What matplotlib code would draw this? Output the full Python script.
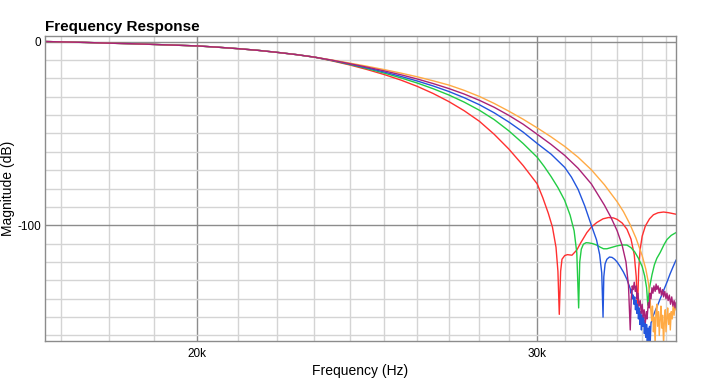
import numpy as np
import matplotlib
matplotlib.use("Agg")
import matplotlib.pyplot as plt

plt.rcParams['font.family'] = ['Liberation Sans', 'DejaVu Sans']

# shared low-frequency part (kHz, dB) - all five curves overlap here
head_f = [16.68, 17.0, 17.5, 18.0, 18.5, 19.0, 19.5, 20.0, 20.5, 21.0,
          21.5, 22.0, 22.5, 23.0]
head_db = [0.0, -0.2, -0.5, -0.9, -1.2, -1.6, -2.0, -2.4, -3.1, -3.9,
           -4.8, -5.9, -7.1, -8.5]

# red
red_f = [23.5, 24.0, 24.5, 25.0, 25.5, 26.0, 26.5, 27.0, 27.5, 28.0,
         28.5, 29.0, 29.5, 30.0, 30.2, 30.4, 30.55, 30.68, 30.75, 30.8,
         30.85, 30.9, 31.0, 31.1, 31.27, 31.45, 31.6, 31.83, 32.0, 32.21,
         32.45, 32.66, 32.85, 33.0, 33.2, 33.39, 33.55, 33.68, 33.76, 33.81,
         33.86, 33.92, 34.0, 34.13, 34.3, 34.46, 34.65, 34.88, 35.1, 35.4]
red_db = [-10.6, -12.8, -15.3, -18.0, -21.0, -24.4, -28.3, -32.7, -37.7, -43.4,
          -50.5, -58.5, -67.5, -77.5, -85.0, -93.5, -101, -112, -125, -148.5,
          -125, -118.5, -116.5, -116.0, -116.3, -113.5, -109.5, -104, -101, -98.5,
          -96.5, -95.8, -96.0, -96.8, -98.8, -102.2, -107.5, -116, -128, -146.4,
          -124, -113, -106, -100.4, -96.5, -94.3, -93.2, -92.8, -93.2, -94]

# green
green_f = [23.5, 24.0, 24.5, 25.0, 25.5, 26.0, 26.5, 27.0, 27.5, 28.0,
           28.5, 29.0, 29.5, 30.0, 30.25, 30.5, 30.75, 31.0, 31.2, 31.35,
           31.45, 31.52, 31.56, 31.62, 31.7, 31.8, 31.9, 32.05, 32.21, 32.35,
           32.47, 32.6, 32.75, 33.0, 33.2, 33.39, 33.55, 33.7, 33.85, 34.0,
           34.1, 34.18, 34.23, 34.3, 34.4, 34.5, 34.6, 34.74, 34.9, 35.02,
           35.2, 35.4]
green_db = [-10.4, -12.5, -14.8, -17.2, -19.8, -22.6, -25.7, -29.1, -33.0, -37.4,
            -42.5, -48.6, -55.5, -63.0, -68.0, -73.5, -79.5, -86.5, -94.5, -103,
            -115, -145, -120, -113, -110.3, -109.5, -109.6, -110.0, -110.8, -112.0,
            -112.8, -112.8, -112.2, -111.2, -110.7, -110.8, -112.2, -114.5, -118, -122.5,
            -127.5, -134, -143.5, -134, -127, -121.5, -118, -114.8, -110.5, -107.8,
            -105.5, -104]

# blue
blue_f = [23.5, 24.0, 24.5, 25.0, 25.5, 26.0, 26.5, 27.0, 27.5, 28.0,
          28.5, 29.0, 29.5, 30.0, 30.5, 31.0, 31.25, 31.5, 31.75, 32.0,
          32.2, 32.32, 32.4, 32.45, 32.48, 32.53, 32.6, 32.7, 32.8, 32.9,
          33.0, 33.12, 33.25, 33.39, 33.52, 33.55, 33.58, 33.61, 33.64, 33.67,
          33.70, 33.73, 33.76, 33.79, 33.82, 33.85, 33.88, 33.91, 33.94, 33.97,
          34.00, 34.03, 34.06, 34.09, 34.12, 34.15, 34.18, 34.21, 34.24, 34.27,
          34.30, 34.33, 34.36, 34.4, 34.46, 34.55, 34.65, 34.74, 34.88, 35.02,
          35.15, 35.28, 35.4]
blue_db = [-10.3, -12.3, -14.4, -16.6, -19.0, -21.5, -24.2, -27.2, -30.6, -34.4,
           -38.8, -43.8, -49.3, -55.5, -61.3, -68.5, -73.8, -80.5, -89.5, -100,
           -108, -116, -126, -150, -128, -121, -118.5, -117.3, -117.5, -118.5,
           -120, -122.5, -125.5, -129.5, -134.5, -137, -135, -140, -138, -143,
           -139, -146, -141, -148, -143, -151, -145, -154, -147, -157,
           -149, -155, -150, -159, -152, -161, -154, -166, -156, -167,
           -155, -163, -153, -152, -149, -146, -143, -140, -135.5, -131,
           -126.5, -122.5, -119]

# purple
purple_f = [23.5, 24.0, 24.5, 25.0, 25.5, 26.0, 26.5, 27.0, 27.5, 28.0,
            28.5, 29.0, 29.5, 30.0, 30.5, 31.0, 31.5, 32.0, 32.5, 32.75,
            33.0, 33.2, 33.35, 33.45, 33.52, 33.56, 33.60, 33.64, 33.68, 33.72,
            33.76, 33.79, 33.83, 33.87, 33.92, 33.96, 34.00, 34.04, 34.08, 34.13,
            34.17, 34.20, 34.25, 34.29, 34.32, 34.36, 34.40, 34.44, 34.48, 34.53,
            34.57, 34.60, 34.65, 34.70, 34.74, 34.79, 34.84, 34.88, 34.93, 34.98,
            35.02, 35.07, 35.12, 35.17, 35.22, 35.27, 35.32, 35.36, 35.40]
purple_db = [-10.2, -12.1, -14.0, -16.0, -18.1, -20.4, -22.9, -25.6, -28.6, -32.0,
             -35.8, -40.2, -45.0, -50.5, -56.0, -62.0, -69.0, -77.5, -89.0, -95.5,
             -103, -111, -120, -133, -157, -140, -133, -135, -131, -136,
             -133, -140, -137, -144, -141, -148, -143, -150, -146, -153,
             -147, -151, -142, -145, -137, -140, -134, -137, -133, -136,
             -132, -135, -133, -137, -134, -138, -135, -139, -136, -140,
             -137, -141, -138, -143, -139, -144, -141, -145, -142]

# orange
orange_f = [23.5, 24.0, 24.5, 25.0, 25.5, 26.0, 26.5, 27.0, 27.5, 28.0,
            28.5, 29.0, 29.5, 30.0, 30.5, 31.0, 31.5, 32.0, 32.5, 33.0,
            33.25, 33.5, 33.75, 34.0, 34.15, 34.25, 34.32, 34.35, 34.39, 34.42,
            34.46, 34.49, 34.53, 34.56, 34.60, 34.63, 34.67, 34.70, 34.74, 34.77,
            34.81, 34.84, 34.88, 34.91, 34.95, 34.98, 35.02, 35.05, 35.09, 35.13,
            35.16, 35.20, 35.24, 35.28, 35.32, 35.36, 35.40]
orange_db = [-10.1, -11.8, -13.5, -15.3, -17.2, -19.2, -21.4, -23.7, -26.6, -29.9,
             -33.7, -37.9, -42.3, -47.0, -51.9, -57.1, -63.0, -69.8, -77.9, -87.2,
             -92.6, -99.2, -107, -116.5, -124, -131, -139, -146, -152, -144,
             -158, -150, -165, -148, -143, -155, -147, -160, -151, -144,
             -156, -149, -165, -153, -146, -158, -150, -145, -154, -148,
             -157, -147, -151, -144, -149, -143, -146]

series = [
    (red_f, red_db, '#ff3030'),
    (green_f, green_db, '#22cc44'),
    (blue_f, blue_db, '#2255dd'),
    (orange_f, orange_db, '#ffaa44'),
    (purple_f, purple_db, '#aa2277'),
]

fig = plt.figure(figsize=(7.09, 3.8), dpi=100)
ax = fig.add_axes([45 / 709, 1 - 341 / 380, 631 / 709, 305 / 380])

for f, db, c in series:
    freq_hz = [v * 1000 for v in head_f + f]
    ax.plot(freq_hz, head_db + db, color=c, lw=1.0)

ax.set_xscale('log')
ax.set_xlim(16680, 35400)
ax.set_ylim(-163, 3)

ax.set_xticks([20000, 30000])
ax.set_xticklabels(['20k', '30k'])
ax.set_xticks([k * 1000 for k in range(17, 36) if k not in (20, 30)], minor=True)
ax.xaxis.set_minor_formatter(matplotlib.ticker.NullFormatter())
ax.set_yticks([0, -100])
ax.set_yticklabels(['0', '-100'])
ax.set_yticks([v for v in range(-160, 0, 10) if v != -100], minor=True)

ax.grid(which='major', color='#8c8c8c', lw=1.0)
ax.grid(which='minor', color='#d4d4d4', lw=1.0)
ax.set_axisbelow(True)
ax.tick_params(which='both', length=0, labelsize=8.5, pad=3)
ax.tick_params(axis='x', pad=5)

for s in ax.spines.values():
    s.set_color('#8c8c8c')
    s.set_linewidth(1.0)

ax.set_xlabel('Frequency (Hz)', fontsize=10, labelpad=3)
ax.set_ylabel('Magnitude (dB)', fontsize=10)
ax.yaxis.set_label_coords(-0.048, 0.5)
fig.text(45 / 709, 1 - 31 / 380, 'Frequency Response', fontsize=11,
         fontweight='bold', va='baseline', ha='left')

fig.savefig('out.png', dpi=100)
